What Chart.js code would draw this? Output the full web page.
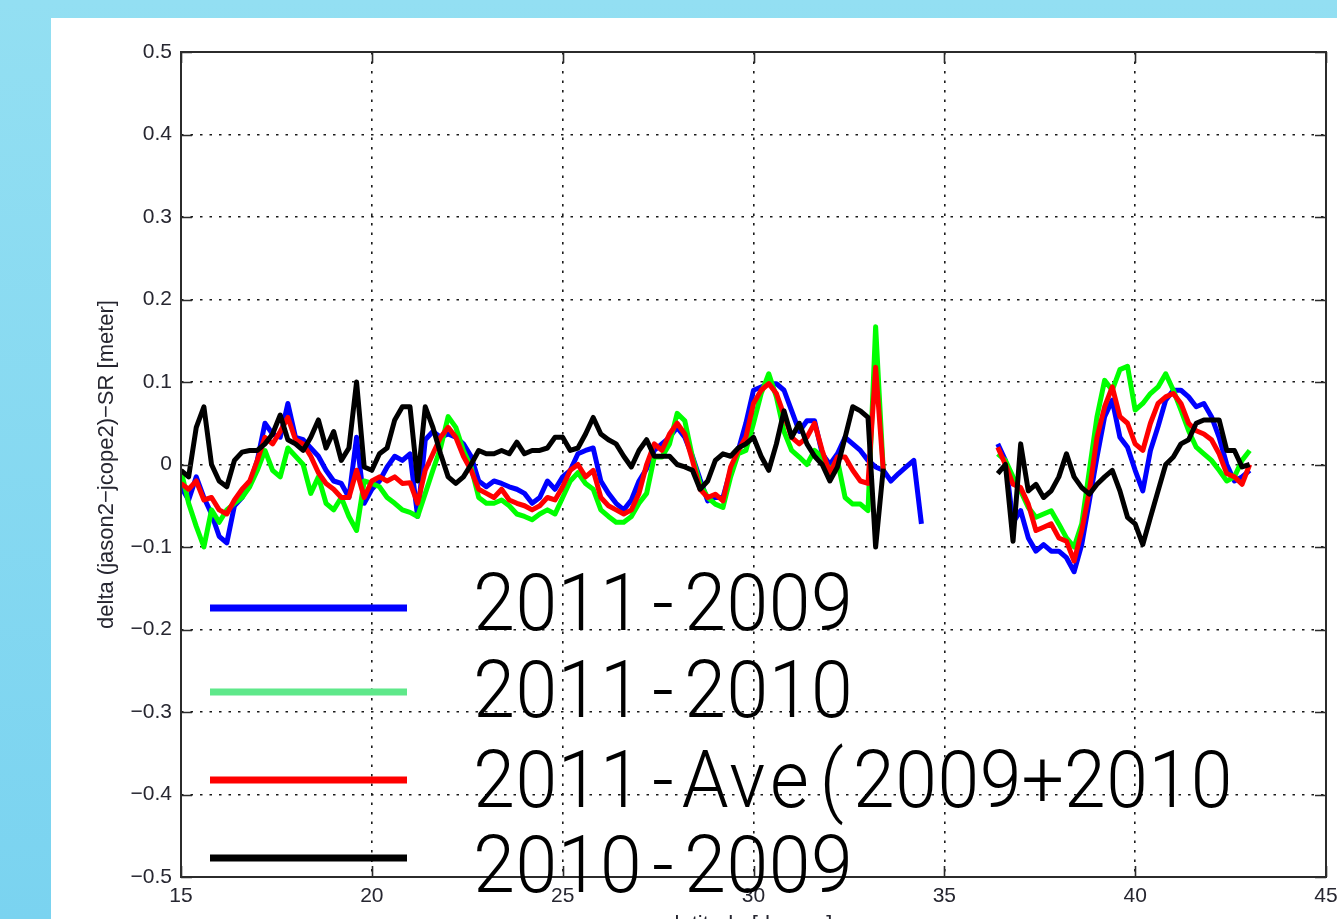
<!DOCTYPE html>
<html>
<head>
<meta charset="utf-8">
<script src="https://cdn.jsdelivr.net/npm/chart.js@4.4.1/dist/chart.umd.min.js"></script>
<style>
  html, body { margin: 0; padding: 0; width: 1337px; height: 919px; overflow: hidden; }
  body { position: relative; background: linear-gradient(#93dff2, #7ad3f0); }
  #panel { position: absolute; left: 51px; top: 18px; width: 1286px; height: 901px; background: #ffffff; }
  #wrap { position: absolute; left: 0; top: 0; width: 1337px; height: 942px; }
</style>
</head>
<body>
<div id="panel"></div>
<div id="wrap"><canvas id="c" width="1337" height="942"></canvas></div>
<script>
// Latitude samples (degrees) for the two along-track segments
const latSouth = [15.0,15.2,15.4,15.6,15.8,16.0,16.2,16.4,16.6,16.8,17.0,17.2,17.4,17.6,17.8,18.0,18.2,18.4,18.6,18.8,
  19.0,19.2,19.4,19.6,19.8,20.0,20.2,20.4,20.6,20.8,21.0,21.2,21.4,21.6,21.8,22.0,22.2,22.4,22.6,22.8,
  23.0,23.2,23.4,23.6,23.8,24.0,24.2,24.4,24.6,24.8,25.0,25.2,25.4,25.6,25.8,26.0,26.2,26.4,26.6,26.8,
  27.0,27.2,27.4,27.6,27.8,28.0,28.2,28.4,28.6,28.8,29.0,29.2,29.4,29.6,29.8,30.0,30.2,30.4,30.6,30.8,
  31.0,31.2,31.4,31.6,31.8,32.0,32.2,32.4,32.6,32.8,33.0,33.2,33.4,33.6,33.8,34.0,34.2,34.4];
const latNorth = [36.4,36.6,36.8,37.0,37.2,37.4,37.6,37.8,38.0,38.2,38.4,38.6,38.8,39.0,39.2,39.4,39.6,39.8,
  40.0,40.2,40.4,40.6,40.8,41.0,41.2,41.4,41.6,41.8,42.0,42.2,42.4,42.6,42.8,43.0];

// delta (jason2 - jcope2) - SR [m]
const d2011_2009_S = [-0.027,-0.043,-0.015,-0.04,-0.06,-0.087,-0.095,-0.05,-0.04,-0.023,0.005,0.05,0.037,0.033,0.074,0.033,0.03,0.02,0.01,-0.007,
  -0.02,-0.023,-0.04,0.033,-0.047,-0.03,-0.02,-0.003,0.01,0.005,0.013,-0.063,0.03,0.04,0.033,0.037,0.033,0.025,0.01,-0.02,
  -0.027,-0.02,-0.023,-0.027,-0.03,-0.035,-0.047,-0.04,-0.02,-0.03,-0.015,-0.007,0.013,0.017,0.02,-0.02,-0.035,-0.047,-0.055,-0.043,
  -0.02,-0.005,0.017,0.025,0.033,0.045,0.033,0.01,-0.018,-0.044,-0.04,-0.04,-0.007,0.017,0.05,0.09,0.094,0.098,0.098,0.09,
  0.065,0.04,0.053,0.053,0.013,0.0,0.013,0.033,0.025,0.017,0.005,-0.003,-0.007,-0.02,-0.011,-0.003,0.005,-0.072];
const d2011_2009_N = [0.025,0.005,-0.07,-0.056,-0.089,-0.105,-0.097,-0.105,-0.105,-0.113,-0.13,-0.097,-0.044,0.009,0.058,0.078,0.033,0.021,
  -0.007,-0.032,0.017,0.046,0.078,0.09,0.09,0.082,0.07,0.074,0.058,0.033,0.0,-0.02,-0.015,-0.007];

const d2011_2010_S = [-0.007,-0.047,-0.075,-0.1,-0.055,-0.07,-0.055,-0.047,-0.04,-0.027,-0.007,0.017,-0.007,-0.015,0.02,0.01,0.0,-0.035,-0.015,-0.047,
  -0.055,-0.04,-0.063,-0.08,-0.02,-0.023,-0.027,-0.04,-0.047,-0.055,-0.058,-0.063,-0.035,-0.007,0.02,0.058,0.045,0.017,-0.003,-0.04,
  -0.047,-0.047,-0.043,-0.05,-0.06,-0.063,-0.067,-0.06,-0.055,-0.06,-0.04,-0.02,-0.01,-0.023,-0.03,-0.055,-0.063,-0.07,-0.07,-0.063,
  -0.047,-0.035,0.009,0.009,0.025,0.062,0.053,0.009,-0.023,-0.04,-0.048,-0.052,-0.015,0.013,0.017,0.05,0.086,0.11,0.082,0.04,
  0.017,0.009,0.0,0.017,0.009,-0.007,0.005,-0.04,-0.048,-0.048,-0.056,0.167,-0.007,null,null,null,null,null];
const d2011_2010_N = [0.013,0.005,-0.015,-0.032,-0.052,-0.064,-0.06,-0.056,-0.072,-0.089,-0.1,-0.072,-0.007,0.058,0.102,0.09,0.115,0.119,
  0.066,0.074,0.086,0.094,0.11,0.09,0.066,0.041,0.021,0.013,0.005,-0.007,-0.02,-0.015,0.005,0.017];

const d2011_ave_S = [-0.023,-0.03,-0.02,-0.043,-0.04,-0.055,-0.06,-0.043,-0.03,-0.02,0.005,0.033,0.025,0.04,0.057,0.03,0.025,0.01,-0.01,-0.023,
  -0.03,-0.04,-0.04,-0.007,-0.04,-0.02,-0.015,-0.02,-0.015,-0.023,-0.022,-0.047,-0.007,0.013,0.033,0.045,0.033,0.01,-0.007,-0.03,
  -0.035,-0.04,-0.03,-0.043,-0.047,-0.05,-0.055,-0.05,-0.04,-0.043,-0.027,-0.007,0.0,-0.015,-0.007,-0.04,-0.05,-0.055,-0.06,-0.055,
  -0.035,0.0,0.025,0.017,0.037,0.05,0.037,0.005,-0.03,-0.04,-0.036,-0.044,-0.003,0.017,0.033,0.074,0.09,0.098,0.086,0.06,
  0.033,0.025,0.033,0.05,0.017,-0.011,0.009,0.009,-0.007,-0.02,-0.023,0.118,-0.007,null,null,null,null,null];
const d2011_ave_N = [0.021,0.0,-0.024,-0.028,-0.048,-0.08,-0.076,-0.072,-0.089,-0.093,-0.117,-0.08,-0.032,0.033,0.07,0.094,0.058,0.05,
  0.025,0.017,0.05,0.074,0.082,0.086,0.074,0.05,0.041,0.037,0.03,0.013,-0.011,-0.015,-0.024,0.0];

const d2010_2009_S = [-0.007,-0.015,0.045,0.07,0.0,-0.02,-0.027,0.005,0.015,0.017,0.017,0.025,0.037,0.06,0.03,0.025,0.017,0.033,0.054,0.02,
  0.04,0.005,0.02,0.1,-0.003,-0.007,0.013,0.02,0.054,0.07,0.07,-0.02,0.07,0.045,0.013,-0.015,-0.023,-0.015,0.0,0.017,
  0.013,0.013,0.017,0.013,0.027,0.013,0.017,0.017,0.02,0.033,0.033,0.017,0.02,0.037,0.057,0.037,0.03,0.025,0.01,-0.003,
  0.017,0.03,0.01,0.01,0.01,0.0,-0.003,-0.007,-0.03,-0.02,0.005,0.013,0.01,0.02,0.025,0.033,0.01,-0.007,0.025,0.065,
  0.033,0.05,0.025,0.01,0.0,-0.02,-0.003,0.033,0.07,0.065,0.057,-0.1,-0.005,null,null,null,null,null];
const d2010_2009_N = [-0.011,0.0,-0.093,0.025,-0.032,-0.024,-0.04,-0.032,-0.015,0.013,-0.015,-0.028,-0.036,-0.024,-0.015,-0.007,-0.032,-0.064,
  -0.072,-0.097,-0.064,-0.032,0.0,0.009,0.025,0.03,0.05,0.054,0.054,0.054,0.017,0.017,-0.003,0.0];

const seriesLabels = ['2011-2009', '2011-2010', '2011-Ave(2009+2010', '2010-2009'];
const xTicks = [15, 20, 25, 30, 35, 40, 45];
const yTicks = [-0.5, -0.4, -0.3, -0.2, -0.1, 0, 0.1, 0.2, 0.3, 0.4, 0.5];

// two segments joined by a break so the line is not drawn across the data gap
function track(south, north) {
  const pts = latSouth.map((lat, i) => ({ x: lat, y: south[i] }));
  pts.push({ x: 35.5, y: null });
  latNorth.forEach((lat, i) => pts.push({ x: lat, y: north[i] }));
  return pts;
}

const lineColors = ['#0000ff', '#00ff00', '#ff0000', '#000000'];
const legendColors = ['#0000ff', '#5fe88a', '#ff0000', '#000000'];
const tickFont = { family: '"Liberation Sans", Arial, sans-serif', size: 21 };
const inkColor = '#262630';

const fmtY = v => {
  if (Math.abs(v) < 1e-9) return '0';
  return (v < 0 ? '\u2212' : '') + Math.abs(v).toFixed(1);
};

// box outline with inward tick marks on all four sides
const frameTicks = {
  id: 'frameTicks',
  afterDatasetsDraw(chart) {
    const { ctx, chartArea: a, scales: { x, y } } = chart;
    const len = 11;
    ctx.save();
    ctx.strokeStyle = '#2b2b2b';
    ctx.lineWidth = 1.6;
    ctx.beginPath();
    xTicks.forEach(v => {
      const px = Math.round(x.getPixelForValue(v)) + 0.5;
      ctx.moveTo(px, a.bottom); ctx.lineTo(px, a.bottom - len);
      ctx.moveTo(px, a.top); ctx.lineTo(px, a.top + len);
    });
    yTicks.forEach(v => {
      const py = Math.round(y.getPixelForValue(v)) + 0.5;
      ctx.moveTo(a.left, py); ctx.lineTo(a.left + len, py);
      ctx.moveTo(a.right, py); ctx.lineTo(a.right - len, py);
    });
    ctx.stroke();
    ctx.lineWidth = 2;
    ctx.strokeRect(a.left, a.top, a.right - a.left, a.bottom - a.top);
    ctx.restore();
  }
};

// large legend drawn inside the lower-left part of the axes
const bigLegend = {
  id: 'bigLegend',
  afterDraw(chart) {
    const { ctx, chartArea: a } = chart;
    const lineY = [556, 640, 728, 806];
    const baseY = [578, 665, 755, 840];
    const x0 = a.left + 29, x1 = a.left + 226;
    const textX = a.left + 292, cell = 42.2;
    ctx.save();
    chart.data.datasets.forEach((ds, i) => {
      ctx.strokeStyle = legendColors[i];
      ctx.lineWidth = 7;
      ctx.lineCap = 'butt';
      ctx.beginPath();
      ctx.moveTo(x0, a.top + lineY[i]);
      ctx.lineTo(x1, a.top + lineY[i]);
      ctx.stroke();
      ctx.fillStyle = '#000';
      ctx.font = '300 79px Roboto, "Noto Sans CJK JP", sans-serif';
      ctx.textAlign = 'center';
      ctx.textBaseline = 'alphabetic';
      [...ds.label].forEach((ch, k) => {
        ctx.save();
        ctx.translate(textX + cell * k + cell / 2, a.top + baseY[i]);
        ctx.scale(0.95, 1);
        ctx.fillText(ch, 0, 0);
        ctx.restore();
      });
    });
    ctx.restore();
  }
};

const south = [d2011_2009_S, d2011_2010_S, d2011_ave_S, d2010_2009_S];
const north = [d2011_2009_N, d2011_2010_N, d2011_ave_N, d2010_2009_N];

// axis boxes keep their fixed size; label overhang does not shrink the plot
const fixBox = (w, h) => s => {
  if (w) s.width = w;
  if (h) s.height = h;
  s.paddingLeft = 0; s.paddingRight = 0; s.paddingTop = 0; s.paddingBottom = 0;
};

new Chart(document.getElementById('c'), {
  type: 'line',
  data: {
    datasets: seriesLabels.map((label, i) => ({
      label,
      data: track(south[i], north[i]),
      borderColor: lineColors[i],
      borderWidth: 5,
      borderJoinStyle: 'round',
      pointRadius: 0,
      tension: 0,
      spanGaps: false,
      order: 4 - i
    }))
  },
  options: {
    responsive: false,
    animation: false,
    layout: { padding: { left: 90, top: 52, right: 11, bottom: 0 } },
    plugins: { legend: { display: false }, tooltip: { enabled: false } },
    scales: {
      x: {
        type: 'linear', min: 15, max: 45,
        afterBuildTicks: s => { s.ticks = xTicks.map(v => ({ value: v })); },
        afterFit: fixBox(0, 65),
        ticks: { font: tickFont, color: inkColor, padding: 7, maxRotation: 0 },
        grid: { color: '#1a1a1a', lineWidth: 1.6, drawTicks: false },
        border: { display: false, dash: [2.5, 7] },
        title: { display: true, text: 'latitude [degree]', font: { family: '"Liberation Sans", Arial, sans-serif', size: 22 }, color: inkColor }
      },
      y: {
        type: 'linear', min: -0.5, max: 0.5,
        afterBuildTicks: s => { s.ticks = yTicks.map(v => ({ value: v })); },
        afterFit: fixBox(91, 0),
        ticks: { font: tickFont, color: inkColor, padding: 9, callback: fmtY },
        grid: { color: '#1a1a1a', lineWidth: 1.6, drawTicks: false },
        border: { display: false, dash: [2.5, 7] },
        title: { display: true, text: 'delta (jason2\u2212jcope2)\u2212SR [meter]', font: { family: '"Liberation Sans", Arial, sans-serif', size: 22 }, color: inkColor }
      }
    }
  },
  plugins: [frameTicks, bigLegend]
});
</script>
</body>
</html>
